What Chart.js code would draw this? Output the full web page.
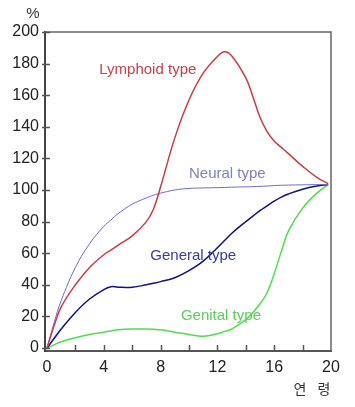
<!DOCTYPE html>
<html>
<head>
<meta charset="utf-8">
<script src="https://cdn.jsdelivr.net/npm/chart.js@4.4.1/dist/chart.umd.min.js"></script>
<style>
html,body{margin:0;padding:0;background:#fff;}
#wrap{width:355px;height:407px;}
</style>
</head>
<body>
<div id="wrap"><canvas id="c" width="355" height="407"></canvas></div>
<script>
// ---- data ----
const ages      = [0,0.5,1,2,3,4,4.5,5,6,7,7.5,8,9,10,11,12,12.5,13,14,14.5,15,15.5,16,16.5,17,18,19,19.8];
const lymphoid  = [0,14,26,40,51,59,62,65,71,80,88,102,133,157,174,184.5,187.5,185,171,159,146,137,131,127,123,115,108,104];
const neural    = [0,16,30,51,66,77,81,85,91,95,96.7,98,100,101,101.3,101.5,101.6,101.8,102,102.1,102.3,102.5,102.8,103,103.1,103.3,103.4,103.5];
const general   = [0,6,12,22.5,31,37,38.8,38.5,38.5,40,41,42,44.5,49,55,63.5,68,72.5,80,83.5,87,90,93,95.5,97.5,100.5,102.5,103.5];
const genital   = [0,2,4,6.5,8.5,10,10.8,11.5,12,12,11.8,11.5,10,8.5,7.5,9,10.5,12,18,22.5,28,35,47,61,74,88.5,98,103.5];
const seriesNames = ["Lymphoid type","Neural type","General type","Genital type"];
const xTickLabels = [0,4,8,12,16,20];
const xMinorTicks = [2,4,6,8,10,12,14,16,18];
const yTickLabels = [0,20,40,60,80,100,120,140,160,180,200];
const yUnit = "%";
const xUnit = ["연","령"];

// ---- styling ----
const lineColors  = ["#cc3b47","#6b6bcc","#10108a","#4ede4e"];
const labelColors = ["#c8414b","#8080c4","#3a3aa8","#5ccf5c"];
const lineWidths  = [1.5,1,1.5,1.5];
// label anchor positions in data coordinates [age, value]
const labelPos = [[7.1,176],[12.7,110.5],[10.3,58],[12.25,20.5]];

const toXY = vals => ages.map((a,i)=>({x:a,y:vals[i]}));
const allSeries = [lymphoid, neural, general, genital];

const decor = {
  id:'decor',
  afterDraw(chart){
    const {ctx, chartArea:ca, scales:{x,y}} = chart;
    ctx.save();
    // top and right frame
    ctx.strokeStyle = '#666';
    ctx.lineWidth = 1.5;
    ctx.beginPath();
    ctx.moveTo(ca.left, ca.top);
    ctx.lineTo(ca.right, ca.top);
    ctx.lineTo(ca.right, ca.bottom);
    ctx.stroke();
    // x inward ticks
    ctx.strokeStyle = '#555';
    ctx.lineWidth = 1.5;
    xMinorTicks.forEach(v=>{
      const px = Math.round(x.getPixelForValue(v))+0.5;
      ctx.beginPath(); ctx.moveTo(px, ca.bottom); ctx.lineTo(px, ca.bottom-6); ctx.stroke();
    });
    // y ticks crossing axis
    yTickLabels.forEach(v=>{
      const py = Math.round(y.getPixelForValue(v))+0.5;
      ctx.beginPath(); ctx.moveTo(ca.left-3, py); ctx.lineTo(ca.left+5, py); ctx.stroke();
    });
    // series labels
    ctx.font = '15px "Liberation Sans", Arial, sans-serif';
    ctx.textAlign = 'center';
    ctx.textBaseline = 'middle';
    seriesNames.forEach((n,i)=>{
      ctx.fillStyle = labelColors[i];
      ctx.fillText(n, x.getPixelForValue(labelPos[i][0]), y.getPixelForValue(labelPos[i][1]));
    });
    // units
    ctx.fillStyle = '#333';
    ctx.font = '15px "Liberation Sans", Arial, sans-serif';
    ctx.fillText(yUnit, 33, 14);
    ctx.font = '14px "Noto Sans CJK KR", sans-serif';
    ctx.fillText(xUnit[0], 300, 389);
    ctx.fillText(xUnit[1], 324, 389);
    ctx.restore();
  }
};

new Chart(document.getElementById('c'), {
  type:'line',
  data:{
    datasets: allSeries.map((s,i)=>({
      label: seriesNames[i],
      data: toXY(s),
      borderColor: lineColors[i],
      borderWidth: lineWidths[i],
      pointRadius: 0,
      fill: false,
      tension: 0.4
    }))
  },
  options:{
    responsive:false,
    animation:false,
    layout:{padding:{left:0,right:24,top:32,bottom:0}},
    plugins:{legend:{display:false},tooltip:{enabled:false}},
    scales:{
      x:{
        type:'linear',
        min:-0.14, max:20,
        afterBuildTicks: s=>{ s.ticks = xTickLabels.map(v=>({value:v})); },
        afterFit: s=>{ s.height = 56; },
        grid:{display:false, drawTicks:false},
        border:{display:true, color:'#555', width:2},
        ticks:{padding:7, color:'#222', font:{family:'"Liberation Sans", Arial, sans-serif', size:16}, maxRotation:0}
      },
      y:{
        type:'linear',
        min:-1.9, max:200,
        afterBuildTicks: s=>{ s.ticks = yTickLabels.map(v=>({value:v})); },
        afterFit: s=>{ s.width = 45; },
        grid:{display:false, drawTicks:false},
        border:{display:true, color:'#444', width:2},
        ticks:{padding:6, color:'#222', font:{family:'"Liberation Sans", Arial, sans-serif', size:16}}
      }
    }
  },
  plugins:[decor]
});
</script>
</body>
</html>
